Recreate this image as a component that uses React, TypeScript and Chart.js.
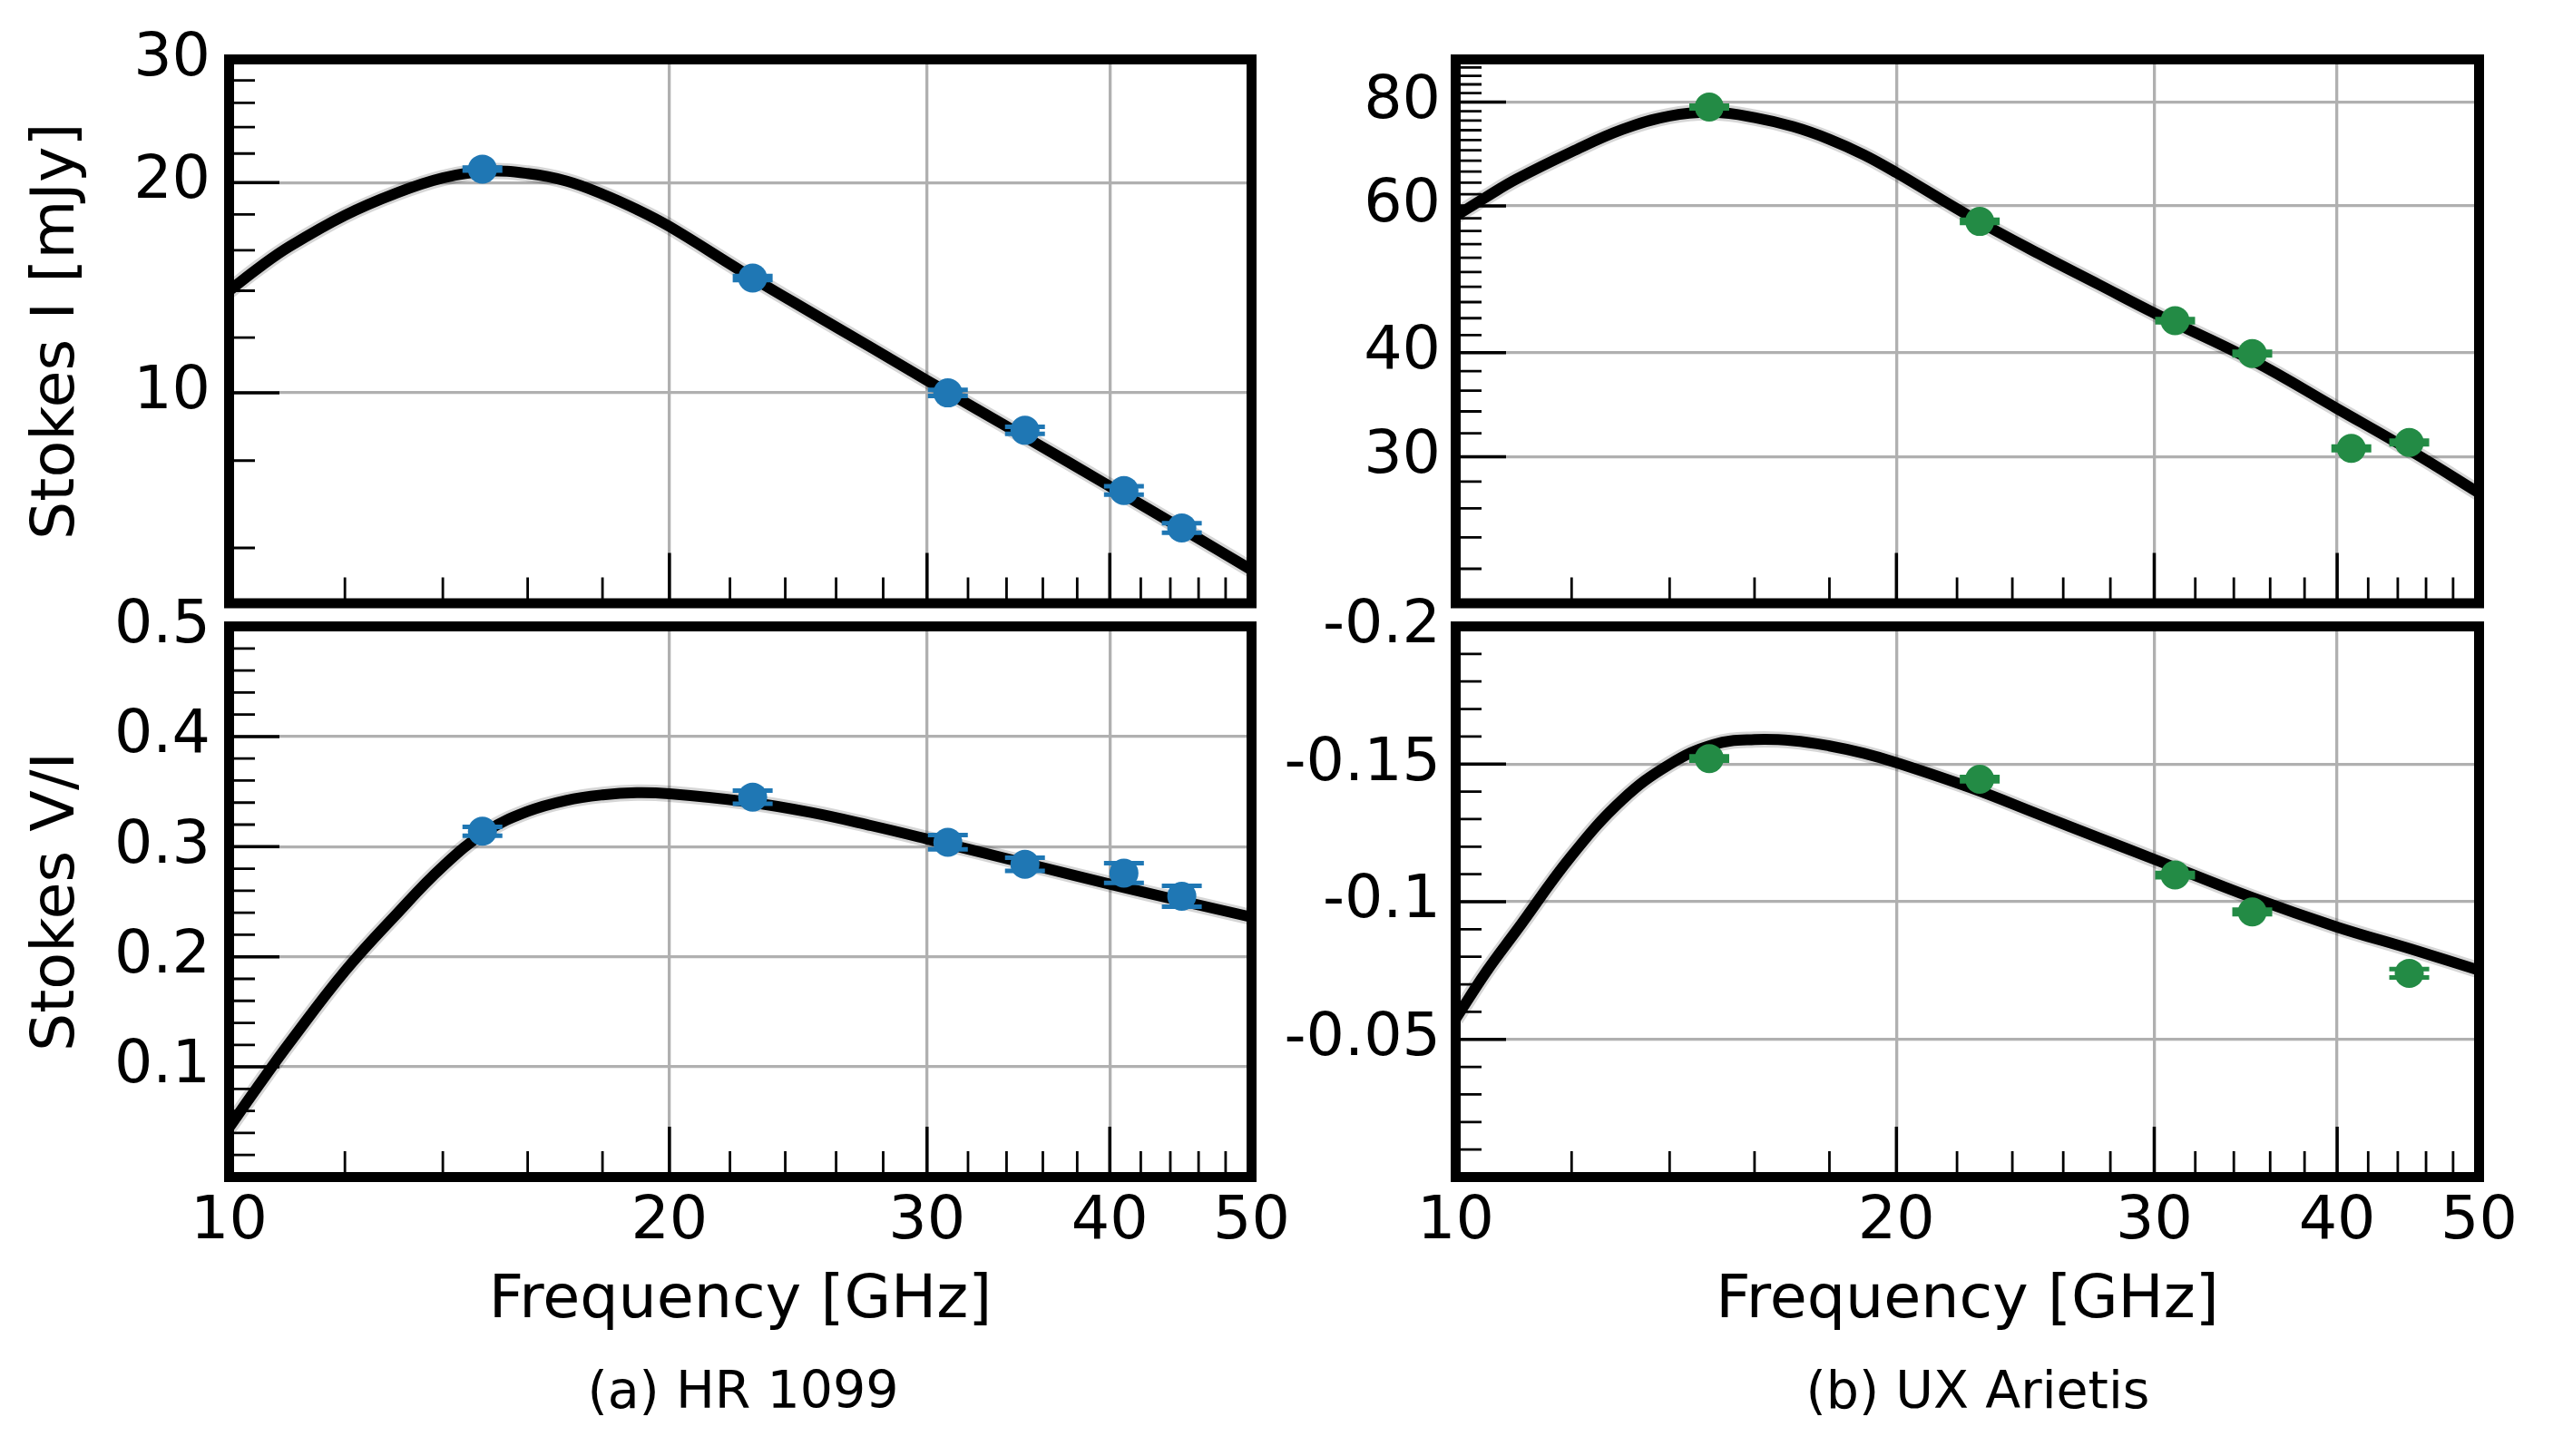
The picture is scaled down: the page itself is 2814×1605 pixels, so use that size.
import React, { useEffect, useRef } from 'react';
import { Chart, registerables } from 'chart.js';

Chart.register(...registerables);

// ---------------- data ----------------
const freqObs = [14.9, 22.8, 31.0, 35.0, 40.9, 44.8];
const freqObsVI_UX = [14.9, 22.8, 31.0, 35.0, 44.8];

const stokesI_HR = [20.9, 14.6, 10.0, 8.84, 7.25, 6.41];
const stokesI_HR_err = [0.1, 0.1, 0.1, 0.1, 0.1, 0.1];
const stokesVI_HR = [0.314, 0.345, 0.304, 0.284, 0.276, 0.255];
const stokesVI_HR_err = [0.004, 0.006, 0.0065, 0.006, 0.009, 0.0095];

const stokesI_UX = [78.9, 57.5, 43.7, 39.9, 30.7, 31.2];
const stokesI_UX_err = [0.3, 0.25, 0.2, 0.2, 0.15, 0.15];
const stokesVI_UX = [-0.152, -0.1445, -0.1097, -0.0963, -0.074];
const stokesVI_UX_err = [0.0008, 0.0008, 0.0008, 0.0008, 0.0015];

const fitFreq = [10, 10.5, 11, 12, 13, 14, 15, 16, 17, 18, 19, 20, 22.5, 25, 27.5, 30, 35, 40, 45, 50];
const fitI_HR = [14.0, 15.15, 16.2, 17.95, 19.3, 20.3, 20.75, 20.6, 20.1, 19.25, 18.3, 17.3, 14.85, 13.03, 11.6, 10.42, 8.65, 7.35, 6.36, 5.58];
const fitVI_HR = [0.045, 0.085, 0.122, 0.187, 0.238, 0.282, 0.314, 0.332, 0.342, 0.347, 0.349, 0.348, 0.341, 0.331, 0.319, 0.307, 0.285, 0.266, 0.25, 0.236];
const fitI_UX = [58.37, 61.57, 64.62, 69.71, 74.17, 76.98, 77.75, 76.64, 74.73, 72.16, 69.14, 65.79, 58.18, 52.62, 48.28, 44.63, 39.16, 34.26, 30.42, 27.13];
const fitVI_UX = [-0.0575, -0.0748, -0.0894, -0.1167, -0.1371, -0.1499, -0.1571, -0.1589, -0.1585, -0.1566, -0.1539, -0.1505, -0.1413, -0.1318, -0.1232, -0.1154, -0.1015, -0.0908, -0.0827, -0.0751];

// ---------------- ticks ----------------
const xMajorTicks = [10, 20, 30, 40, 50];
const xMajorLabels = ['10', '20', '30', '40', '50'];
const xMinorTicks = [12, 14, 16, 18, 22, 24, 26, 28, 32, 34, 36, 38, 42, 44, 46, 48];

const yI_HR_major = [10, 20, 30];
const yI_HR_labels = ['10', '20', '30'];
const yI_HR_minor = [6, 8, 12, 14, 16, 18, 22, 24, 26, 28];

const yI_UX_major = [30, 40, 60, 80];
const yI_UX_labels = ['30', '40', '60', '80'];
const yI_UX_minor = [22, 24, 26, 28, 32, 34, 36, 38, 42, 44, 46, 48, 50, 52, 54, 56, 58, 62, 64, 66, 68, 70, 72, 74, 76, 78, 82, 84, 86, 88];

const yVI_HR_major = [0.1, 0.2, 0.3, 0.4, 0.5];
const yVI_HR_labels = ['0.1', '0.2', '0.3', '0.4', '0.5'];
const yVI_HR_minor = [0.02, 0.04, 0.06, 0.08, 0.12, 0.14, 0.16, 0.18, 0.22, 0.24, 0.26, 0.28, 0.32, 0.34, 0.36, 0.38, 0.42, 0.44, 0.46, 0.48];

const yVI_UX_major = [-0.2, -0.15, -0.1, -0.05];
const yVI_UX_labels = ['-0.2', '-0.15', '-0.1', '-0.05'];
const yVI_UX_minor = [-0.19, -0.18, -0.17, -0.16, -0.14, -0.13, -0.12, -0.11, -0.09, -0.08, -0.07, -0.06, -0.04, -0.03, -0.02, -0.01];

const BLUE = '#1f77b4';
const GREEN = '#238b45';
const FONT = 'DejaVu Sans';
const TICK_SIZE = 66.7;

type PanelSpec = {
  left: number; top: number; w: number; h: number;
  pad: { left: number; top: number; right: number; bottom: number };
  yWidth: number; xHeight: number; bottomRow: boolean;
  yTitle: string | null; yLabelPad: number;
  yType: 'logarithmic' | 'linear'; yMin: number; yMax: number; yReverse: boolean;
  yMajor: number[]; yLabels: string[]; yMinor: number[];
  ptsX: number[]; ptsY: number[]; ptsErr: number[]; color: string; fit: number[];
};

function makeDecor(spec: PanelSpec) {
  return {
    id: 'decor',
    afterDatasetDraw(chart: any, args: any) {
      if (args.index !== 1) return;
      const { ctx } = chart;
      const xs = chart.scales.x;
      const ys = chart.scales.y;
      ctx.save();
      ctx.strokeStyle = spec.color;
      ctx.lineWidth = 5;
      ctx.lineCap = 'butt';
      for (let i = 0; i < spec.ptsX.length; i++) {
        const px = xs.getPixelForValue(spec.ptsX[i]);
        const p1 = ys.getPixelForValue(spec.ptsY[i] + spec.ptsErr[i]);
        const p2 = ys.getPixelForValue(spec.ptsY[i] - spec.ptsErr[i]);
        ctx.beginPath();
        ctx.moveTo(px, p1); ctx.lineTo(px, p2);
        ctx.moveTo(px - 22, p1); ctx.lineTo(px + 22, p1);
        ctx.moveTo(px - 22, p2); ctx.lineTo(px + 22, p2);
        ctx.stroke();
      }
      ctx.restore();
    },
    afterDraw(chart: any) {
      const { ctx, chartArea: a } = chart;
      const xs = chart.scales.x;
      const ys = chart.scales.y;
      ctx.save();
      ctx.strokeStyle = '#000';
      ctx.lineCap = 'butt';
      const xt = (vals: number[], len: number, lw: number) => {
        ctx.lineWidth = lw;
        ctx.beginPath();
        for (const v of vals) {
          const px = xs.getPixelForValue(v);
          ctx.moveTo(px, a.bottom); ctx.lineTo(px, a.bottom - len);
        }
        ctx.stroke();
      };
      const yt = (vals: number[], len: number, lw: number) => {
        ctx.lineWidth = lw;
        ctx.beginPath();
        for (const v of vals) {
          const py = ys.getPixelForValue(v);
          ctx.moveTo(a.left, py); ctx.lineTo(a.left + len, py);
        }
        ctx.stroke();
      };
      xt(xMinorTicks, 28.5, 2.8);
      xt(xMajorTicks, 55.5, 3.5);
      yt(spec.yMinor, 28.5, 2.8);
      yt(spec.yMajor, 55.5, 3.5);
      ctx.lineWidth = 11;
      ctx.lineJoin = 'miter';
      ctx.strokeRect(a.left, a.top, a.right - a.left, a.bottom - a.top);
      ctx.restore();
    },
  };
}

function buildConfig(spec: PanelSpec): any {
  const pts = spec.ptsX.map((f, i) => ({ x: f, y: spec.ptsY[i] }));
  const fit = fitFreq.map((f, i) => ({ x: f, y: spec.fit[i] }));
  const xLabelMap: Record<string, string> = {};
  xMajorTicks.forEach((v, i) => { xLabelMap[String(v)] = xMajorLabels[i]; });
  const yLabelMap: Record<string, string> = {};
  spec.yMajor.forEach((v, i) => { yLabelMap[String(v)] = spec.yLabels[i]; });
  return {
    type: 'line',
    data: {
      datasets: [
        {
          data: pts, showLine: false, pointRadius: 16, pointHoverRadius: 16,
          pointBackgroundColor: spec.color, pointBorderColor: spec.color, pointBorderWidth: 0, order: 0,
        },
        {
          data: fit, borderColor: '#000', borderWidth: 12, pointRadius: 0,
          tension: 0.4, clip: 0, order: 1, fill: false,
        },
        {
          data: fit, borderColor: 'rgba(0,0,0,0.16)', borderWidth: 18, pointRadius: 0,
          tension: 0.4, clip: 0, order: 2, fill: false,
        },
      ],
    },
    options: {
      responsive: false,
      maintainAspectRatio: false,
      animation: false,
      devicePixelRatio: 1,
      events: [],
      layout: { padding: spec.pad },
      plugins: { legend: { display: false }, tooltip: { enabled: false }, title: { display: false } },
      scales: {
        x: {
          type: 'logarithmic', min: 10, max: 50, position: 'bottom',
          afterBuildTicks: (s: any) => { s.ticks = xMajorTicks.map((v) => ({ value: v })); },
          afterFit: (s: any) => { s.height = spec.xHeight; s.paddingLeft = 0; s.paddingRight = 0; },
          ticks: {
            display: spec.bottomRow, autoSkip: false, maxRotation: 0, minRotation: 0,
            padding: 10.5, color: '#000', font: { family: FONT, size: TICK_SIZE },
            callback: (v: any) => xLabelMap[String(v)] ?? '',
          },
          grid: { display: true, color: '#b0b0b0', lineWidth: 3.3, drawTicks: false },
          border: { display: false },
          title: {
            display: spec.bottomRow, text: 'Frequency [GHz]', color: '#000',
            font: { family: FONT, size: TICK_SIZE }, padding: { top: 0, bottom: 0 },
          },
        },
        y: {
          type: spec.yType, min: spec.yMin, max: spec.yMax, reverse: spec.yReverse, position: 'left',
          afterBuildTicks: (s: any) => { s.ticks = spec.yMajor.map((v) => ({ value: v })); },
          afterFit: (s: any) => { s.width = spec.yWidth; s.paddingTop = 0; s.paddingBottom = 0; },
          ticks: {
            autoSkip: false, padding: spec.yLabelPad, color: '#000',
            font: { family: FONT, size: TICK_SIZE },
            callback: (v: any) => yLabelMap[String(v)] ?? '',
          },
          grid: { display: true, color: '#b0b0b0', lineWidth: 3.3, drawTicks: false },
          border: { display: false },
          title: {
            display: !!spec.yTitle, text: spec.yTitle || '', color: '#000',
            font: { family: FONT, size: TICK_SIZE }, padding: { top: 23.5, bottom: 0 },
          },
        },
      },
    },
    plugins: [makeDecor(spec)],
  };
}

const panels: PanelSpec[] = [
  {
    left: 0, top: 0, w: 1492, h: 681,
    pad: { left: 0, top: 65.5, right: 112.5, bottom: 9 },
    yWidth: 252.5, xHeight: 0, bottomRow: false, yTitle: 'Stokes I [mJy]', yLabelPad: 20.5,
    yType: 'logarithmic', yMin: 5, yMax: 30, yReverse: false,
    yMajor: yI_HR_major, yLabels: yI_HR_labels, yMinor: yI_HR_minor,
    ptsX: freqObs, ptsY: stokesI_HR, ptsErr: stokesI_HR_err, color: BLUE, fit: fitI_HR,
  },
  {
    left: 1380, top: 0, w: 1434, h: 681,
    pad: { left: 0, top: 65.5, right: 81.5, bottom: 9 },
    yWidth: 224.5, xHeight: 0, bottomRow: false, yTitle: null, yLabelPad: 16.5,
    yType: 'logarithmic', yMin: 20, yMax: 90, yReverse: false,
    yMajor: yI_UX_major, yLabels: yI_UX_labels, yMinor: yI_UX_minor,
    ptsX: freqObs, ptsY: stokesI_UX, ptsErr: stokesI_UX_err, color: GREEN, fit: fitI_UX,
  },
  {
    left: 0, top: 600, w: 1492, h: 1005,
    pad: { left: 0, top: 90.5, right: 112.5, bottom: 130 },
    yWidth: 252.5, xHeight: 177.5, bottomRow: true, yTitle: 'Stokes V/I', yLabelPad: 20.5,
    yType: 'linear', yMin: 0, yMax: 0.5, yReverse: false,
    yMajor: yVI_HR_major, yLabels: yVI_HR_labels, yMinor: yVI_HR_minor,
    ptsX: freqObs, ptsY: stokesVI_HR, ptsErr: stokesVI_HR_err, color: BLUE, fit: fitVI_HR,
  },
  {
    left: 1380, top: 600, w: 1434, h: 1005,
    pad: { left: 0, top: 90.5, right: 81.5, bottom: 130 },
    yWidth: 224.5, xHeight: 177.5, bottomRow: true, yTitle: null, yLabelPad: 16.5,
    yType: 'linear', yMin: -0.2, yMax: 0, yReverse: true,
    yMajor: yVI_UX_major, yLabels: yVI_UX_labels, yMinor: yVI_UX_minor,
    ptsX: freqObsVI_UX, ptsY: stokesVI_UX, ptsErr: stokesVI_UX_err, color: GREEN, fit: fitVI_UX,
  },
];

const captions = [
  { text: '(a) HR 1099', cx: 819 },
  { text: '(b) UX Arietis', cx: 2180 },
];

function Panel({ spec }: { spec: PanelSpec }) {
  const ref = useRef<HTMLCanvasElement | null>(null);
  useEffect(() => {
    if (!ref.current) return;
    const chart = new Chart(ref.current, buildConfig(spec));
    return () => chart.destroy();
  }, [spec]);
  return (
    <canvas
      ref={ref}
      width={spec.w}
      height={spec.h}
      style={{ position: 'absolute', left: spec.left, top: spec.top, width: spec.w, height: spec.h }}
    />
  );
}

export default function App() {
  return (
    <div style={{ position: 'absolute', left: 0, top: 0, width: 2814, height: 1605, background: '#fff', overflow: 'hidden' }}>
      {panels.map((p, i) => <Panel key={i} spec={p} />)}
      {captions.map((c, i) => (
        <div
          key={'c' + i}
          style={{
            position: 'absolute', left: c.cx - 500, width: 1000, top: 1504, textAlign: 'center',
            fontFamily: FONT, fontSize: 57, lineHeight: '57px', color: '#000', whiteSpace: 'nowrap',
          }}
        >
          {c.text}
        </div>
      ))}
    </div>
  );
}
